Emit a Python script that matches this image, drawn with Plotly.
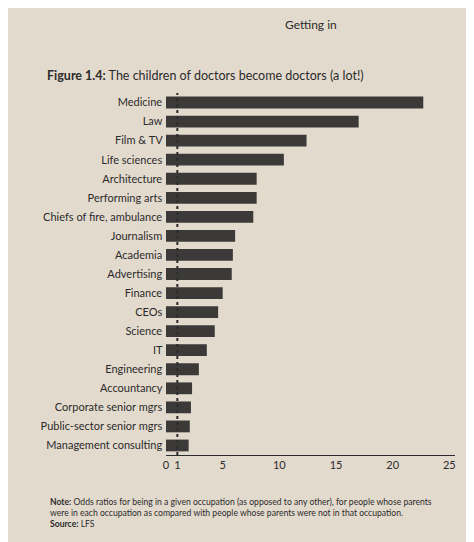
import plotly.graph_objects as go

occupations = ["Medicine", "Law", "Film & TV", "Life sciences", "Architecture",
               "Performing arts", "Chiefs of fire, ambulance", "Journalism", "Academia",
               "Advertising", "Finance", "CEOs", "Science", "IT", "Engineering",
               "Accountancy", "Corporate senior mgrs", "Public-sector senior mgrs",
               "Management consulting"]
odds = [22.7, 17.0, 12.4, 10.4, 8.0, 8.0, 7.7, 6.1, 5.9, 5.8, 5.0, 4.6, 4.3, 3.6,
        2.9, 2.3, 2.2, 2.1, 2.0]
tick_vals = [0, 1, 5, 10, 15, 20, 25]

paper = "#e3dace"
ink = "#2b2b2b"
fnt = "Lato"

fig = go.Figure(go.Bar(
    x=odds, y=occupations, orientation="h",
    marker=dict(color="#3b3a39", line=dict(width=0)), width=0.62,
))

fig.add_vline(x=1, line=dict(color=ink, width=2, dash="dot"))

fig.update_layout(
    width=474, height=542,
    paper_bgcolor=paper, plot_bgcolor=paper,
    margin=dict(l=158, r=27, t=85, b=95),
    showlegend=False,
    font=dict(family=fnt, size=11, color=ink),
    xaxis=dict(range=[0, 25.5], tickvals=tick_vals, showgrid=False, zeroline=False,
               showline=True, linecolor=ink, linewidth=1, ticks="", tickfont=dict(size=11)),
    yaxis=dict(autorange="reversed", showgrid=False, ticks="", tickfont=dict(size=11),
               ticksuffix=" "),
    annotations=[
        dict(text="Getting in", x=0.5, y=1.0, xref="paper", yref="paper", yanchor="top",
             xanchor="center", showarrow=False, yshift=78, font=dict(size=12)),
        dict(text="<b>Figure 1.4:</b> The children of doctors become doctors (a lot!)",
             x=-0.42, y=1.0, xref="paper", yref="paper", xanchor="left", yanchor="bottom",
             showarrow=False, yshift=8, font=dict(size=12.5)),
        dict(text="<b>Note:</b> Odds ratios for being in a given occupation (as opposed to any other), for people whose parents<br>"
                  "were in each occupation as compared with people whose parents were not in that occupation.<br>"
                  "<b>Source:</b> LFS",
             x=-0.41, y=0, xref="paper", yref="paper", xanchor="left", yanchor="top",
             align="left", showarrow=False, yshift=-40, font=dict(size=8.6)),
    ],
)

fig.write_html("out.html")
